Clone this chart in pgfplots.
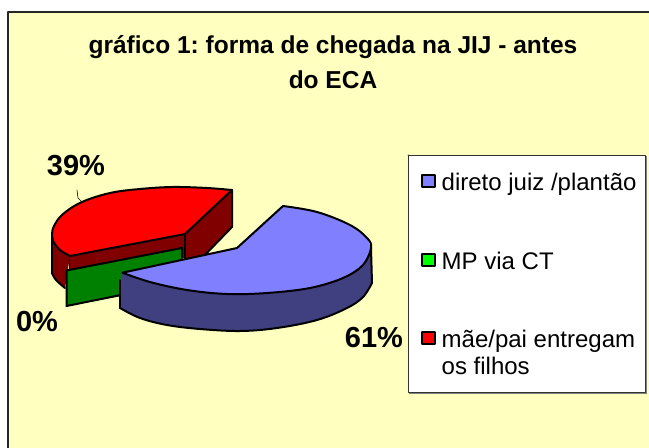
\documentclass[border=0pt]{standalone}
\usepackage{fontspec}
\setmainfont{Liberation Sans}
\usepackage{pgfplots}
\pgfplotsset{compat=1.18}
\definecolor{bgy}{HTML}{FFFFC0}
\definecolor{pblue}{HTML}{8080FF}
\definecolor{dblue}{HTML}{404080}
\definecolor{pred}{HTML}{FF0000}
\definecolor{dred}{HTML}{800000}
\definecolor{dgreen}{HTML}{008000}
\definecolor{lgreen}{HTML}{00FF00}
\newcommand{\fs}[1]{\fontsize{#1bp}{#1bp}\selectfont}
\frenchspacing
\begin{document}
\begin{tikzpicture}
\begin{axis}[hide axis, scale only axis, width=649bp, height=448bp,
  xmin=0, xmax=649, ymin=0, ymax=448, y dir=reverse, clip=true,
  every axis plot/.append style={line join=round, line cap=round, mark=none},
  fl/.style={draw=none, fill=#1},
  ol/.style={draw=black, line width=2bp},
  arc/.style={draw=black, line width=2bp, smooth, tension=0.6}]
% chart area
\addplot[fill=white, draw=none] coordinates {(0,0)(649,0)(649,448)(0,448)};
\addplot[fill=bgy, draw=none] coordinates {(7.5,12)(649,12)(649,448)(7.5,448)};
\addplot[draw=black!85, line width=2bp] coordinates {(7.5,448)(7.5,12)(649,12)};
% red slice: outer wall
\addplot[fl=dred] coordinates {(52,235)(52,273)(56,280)(65,288)(70,256)};
\addplot[arc] coordinates {(52,273)(56,280)(65,288)};
\addplot[ol] coordinates {(52,235)(52,273)};
\addplot[ol] coordinates {(70,256)(70,275)};
% red slice: cut walls
\addplot[fl=dred] coordinates {(70,256)(185,234)(185,258)(70,278)};
\addplot[fl=dred] coordinates {(185,234)(232,190)(232,227)(203,257)(185,258)};
\addplot[ol] coordinates {(185,234)(185,258)};
\addplot[ol] coordinates {(232,190)(232,227)(203,257)};
% red slice: top
\addplot[fl=pred] coordinates {(70,256)(60,250)(53,241)(52,235)(54,226)(63,214)(82,202)(110,193)(140,189)(173,187)(207,188)(232,190)(185,234)};
\addplot[arc] coordinates {(70,256)(60,250)(53,241)(52,235)(54,226)(63,214)(82,202)(110,193)(140,189)(173,187)(207,188)(232,190)};
\addplot[ol] coordinates {(232,190)(185,234)(70,256)};
% green slice
\addplot[fl=dgreen] coordinates {(66.5,270.5)(182,248)(182,262)(121,296)(66.5,306)};
\addplot[ol] coordinates {(182,258)(182,248)(66.5,270.5)(66.5,306)(121,295)};
% blue wall
\addplot[fl=dblue] coordinates {(122,273)(120,308)(140,318)(167,325)(200,329)(240,331)(277,328)(317,320)(347,308)(363,297)(372,283)(371,248)(300,270)};
\addplot[arc] coordinates {(120,308)(140,318)(167,325)(200,329)(240,331)(277,328)(317,320)(347,308)(363,297)(372,283)};
\addplot[ol] coordinates {(120,280)(120,308)};
\addplot[ol] coordinates {(372,283)(371,248)};
% blue top
\addplot[fl=pblue] coordinates {(122.5,272.7)(237,248)(283,206)(317,212)(350,225)(367,238)(371,248)(363,265)(343,278)(310,288)(267,293)(227,294)(187,290)(150,282)};
\addplot[arc] coordinates {(283,206)(317,212)(350,225)(367,238)(371,248)(363,265)(343,278)(310,288)(267,293)(227,294)(187,290)(150,282)(122.5,272.7)};
\addplot[ol] coordinates {(122.5,272.7)(237,248)(283,206)};
% leader
\addplot[draw=black, line width=0.6bp] coordinates {(77,190)(78,198)(82,202)};
% legend box
\addplot[fill=gray, draw=none] coordinates {(409,156)(647,156)(647,393.5)(409,393.5)};
\addplot[fill=white, draw=black!80, line width=1bp] coordinates {(408,155)(645.5,155)(645.5,392)(408,392)(408,155)};
% legend keys
\addplot[fill=pblue, draw=black, line width=2bp] coordinates {(422,175)(435,175)(435,187)(422,187)(422,175)};
\addplot[fill=lgreen, draw=black, line width=2bp] coordinates {(422,254)(435,254)(435,266)(422,266)(422,254)};
\addplot[fill=pred, draw=black, line width=2bp] coordinates {(422,332)(435,332)(435,344)(422,344)(422,332)};
% texts
\node[align=center, font=\bfseries\fs{24.5}, anchor=center] at (axis cs:333,47) {gráfico 1: forma de chegada na JIJ - antes};
\node[align=center, font=\bfseries\fs{24.5}, anchor=center] at (axis cs:333,80) {do ECA};
\node[font=\bfseries\fs{29}, anchor=center] at (axis cs:76,166) {39\%};
\node[font=\bfseries\fs{29}, anchor=center] at (axis cs:37,322) {0\%};
\node[font=\bfseries\fs{29}, anchor=center] at (axis cs:374,338) {61\%};
\node[font=\fs{24}, anchor=base west, inner sep=0pt] at (axis cs:441.5,190) {direto juiz /plantão};
\node[font=\fs{24}, anchor=base west, inner sep=0pt] at (axis cs:441.5,269) {MP via CT};
\node[font=\fs{24}, anchor=base west, inner sep=0pt] at (axis cs:441.5,347) {mãe/pai entregam};
\node[font=\fs{24}, anchor=base west, inner sep=0pt] at (axis cs:441.5,374) {os filhos};
\end{axis}
\end{tikzpicture}
\end{document}
